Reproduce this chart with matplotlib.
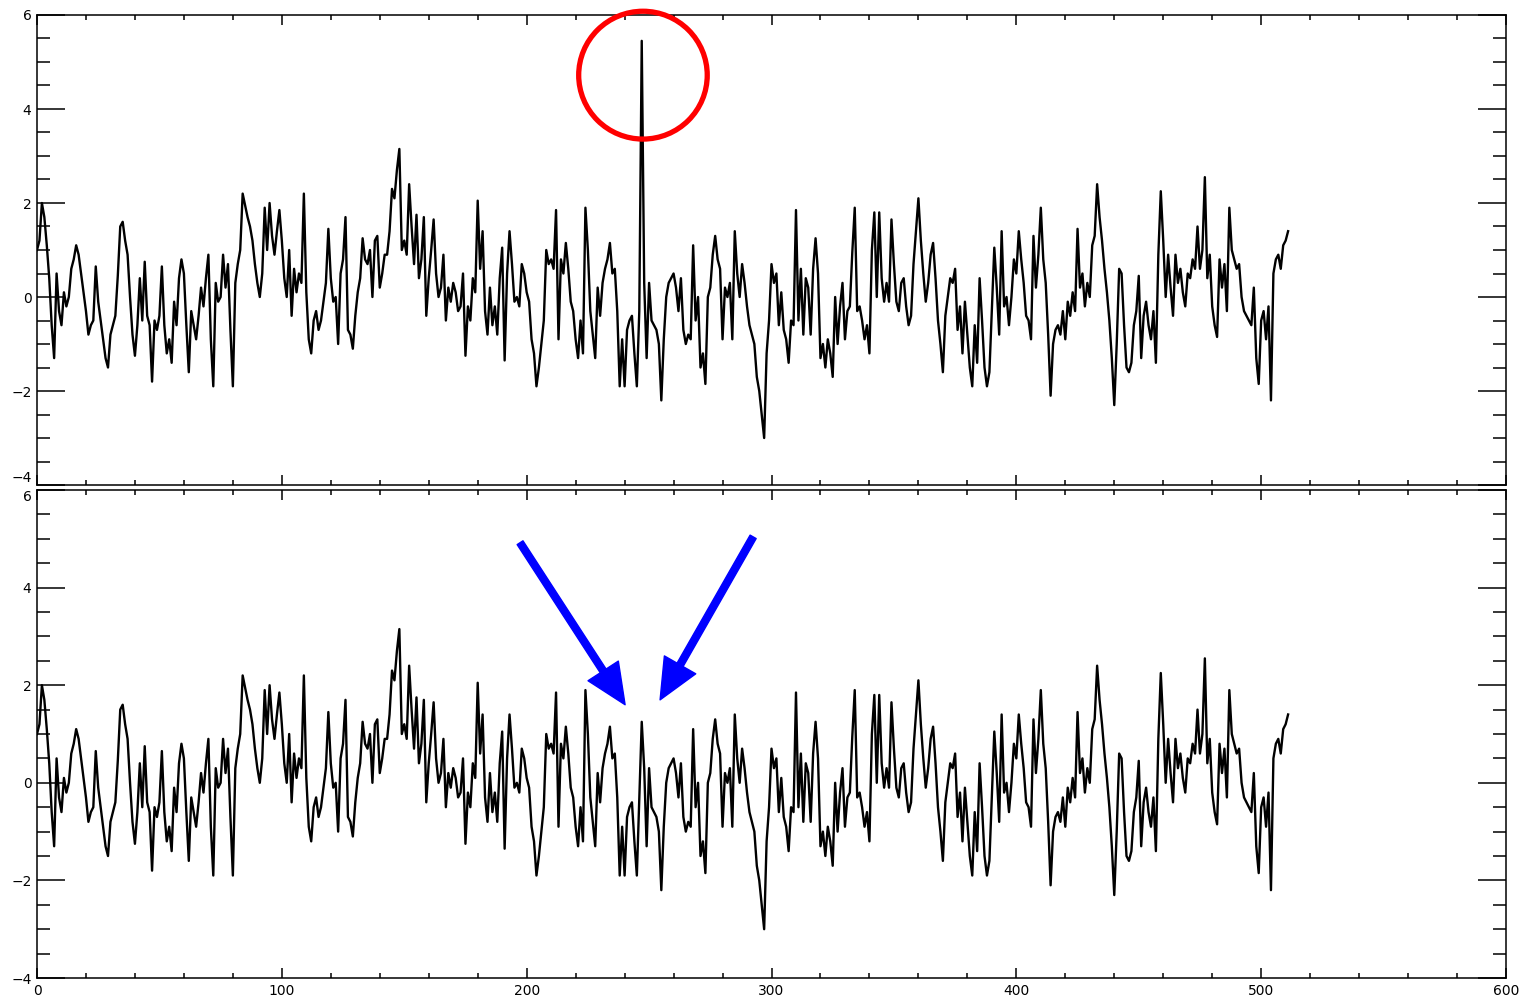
import numpy as np
import matplotlib.pyplot as plt
from matplotlib.patches import Ellipse

# signal, one value per sample (0..511)
signal = [
    1.0, 1.2, 2.0, 1.7, 1.1, 0.4, -0.6, -1.3, 0.5, -0.3,
    -0.6, 0.1, -0.2, 0.0, 0.6, 0.8, 1.1, 0.9, 0.5, 0.1,
    -0.3, -0.8, -0.6, -0.5, 0.65, -0.1, -0.5, -0.9, -1.3, -1.5,
    -0.8, -0.6, -0.4, 0.45, 1.5, 1.6, 1.2, 0.9, 0.0, -0.8,
    -1.25, -0.6, 0.4, -0.5, 0.75, -0.4, -0.6, -1.8, -0.5, -0.7,
    -0.4, 0.65, -0.6, -1.2, -0.9, -1.4, -0.1, -0.6, 0.4, 0.8,
    0.5, -0.6, -1.6, -0.3, -0.6, -0.9, -0.4, 0.2, -0.2, 0.4,
    0.9, -0.9, -1.9, 0.3, -0.1, 0.0, 0.9, 0.2, 0.7, -0.7,
    -1.9, 0.3, 0.7, 1.0, 2.2, 1.95, 1.7, 1.5, 1.2, 0.7,
    0.3, 0.0, 0.5, 1.9, 1.0, 2.0, 1.3, 0.9, 1.4, 1.85,
    1.2, 0.4, 0.0, 1.0, -0.4, 0.6, 0.1, 0.5, 0.3, 2.2,
    0.1, -0.9, -1.2, -0.5, -0.3, -0.7, -0.5, -0.1, 0.3, 1.45,
    0.4, -0.1, 0.0, -1.0, 0.5, 0.8, 1.7, -0.7, -0.8, -1.1,
    -0.4, 0.1, 0.4, 1.25, 0.8, 0.7, 1.0, 0.0, 1.2, 1.3,
    0.2, 0.5, 0.9, 0.9, 1.4, 2.3, 2.1, 2.7, 3.15, 1.0,
    1.2, 0.9, 2.4, 1.5, 0.7, 1.75, 0.4, 0.8, 1.7, -0.4,
    0.4, 1.0, 1.65, 0.5, 0.0, 0.2, 0.9, -0.5, 0.2, -0.1,
    0.3, 0.1, -0.3, -0.2, 0.5, -1.25, -0.2, -0.5, 0.4, 0.1,
    2.05, 0.6, 1.4, -0.3, -0.8, 0.2, -0.6, -0.2, -0.8, 0.4,
    1.05, -1.35, 0.5, 1.4, 0.7, -0.1, 0.0, -0.2, 0.7, 0.5,
    0.1, -0.1, -0.9, -1.2, -1.9, -1.5, -1.0, -0.5, 1.0, 0.7,
    0.8, 0.6, 1.85, -0.9, 0.8, 0.5, 1.15, 0.6, -0.1, -0.3,
    -0.9, -1.3, -0.5, -1.2, 1.9, 1.0, -0.3, -0.8, -1.3, 0.2,
    -0.4, 0.3, 0.6, 0.8, 1.15, 0.5, 0.6, -0.3, -1.9, -0.9,
    -1.9, -0.7, -0.5, -0.4, -1.2, -1.9, -0.3, 5.45, 0.3, -1.3,
    0.3, -0.5, -0.6, -0.7, -1.0, -2.2, -0.9, 0.0, 0.3, 0.4,
    0.5, 0.2, -0.3, 0.4, -0.7, -1.0, -0.8, -0.9, 1.1, -0.5,
    0.0, -1.5, -1.2, -1.85, 0.0, 0.2, 0.9, 1.3, 0.8, 0.6,
    -0.9, 0.2, 0.0, 0.3, -0.9, 1.4, 0.5, 0.0, 0.7, 0.3,
    -0.2, -0.6, -0.8, -1.0, -1.7, -2.0, -2.5, -3.0, -1.2, -0.5,
    0.7, 0.3, 0.5, -0.6, 0.1, -0.7, -0.9, -1.4, -0.5, -0.6,
    1.85, -0.5, 0.6, -0.8, 0.4, 0.2, -0.8, 0.6, 1.25, 0.5,
    -1.3, -1.0, -1.5, -0.9, -1.2, -1.7, 0.0, -1.0, -0.2, 0.3,
    -0.9, -0.3, -0.2, 0.95, 1.9, -0.3, -0.2, -0.5, -0.9, -0.6,
    -1.2, 1.0, 1.8, 0.0, 1.8, 0.4, -0.1, 0.3, -0.1, 1.65,
    0.7, -0.1, -0.3, 0.3, 0.4, -0.2, -0.6, -0.4, 0.7, 1.4,
    2.1, 1.2, 0.5, -0.1, 0.3, 0.9, 1.15, 0.4, -0.5, -1.0,
    -1.6, -0.4, 0.0, 0.4, 0.3, 0.6, -0.7, -0.2, -1.2, -0.1,
    -0.8, -1.5, -1.9, -0.6, -1.4, 0.4, -0.5, -1.5, -1.9, -1.6,
    -0.3, 1.05, 0.2, -0.8, 1.4, -0.2, 0.0, -0.6, 0.0, 0.8,
    0.5, 1.4, 0.8, 0.3, -0.4, -0.5, -0.9, 1.3, 0.2, 0.9,
    1.9, 0.8, 0.3, -0.8, -2.1, -1.0, -0.7, -0.6, -0.8, -0.3,
    -0.9, -0.1, -0.4, 0.1, -0.3, 1.45, 0.2, 0.5, -0.2, 0.3,
    0.0, 1.1, 1.3, 2.4, 1.7, 1.2, 0.6, 0.1, -0.5, -1.3,
    -2.3, -1.0, 0.6, 0.5, -0.6, -1.5, -1.6, -1.4, -0.6, -0.3,
    0.45, -1.3, -0.4, -0.1, -0.6, -0.9, -0.3, -1.4, 0.9, 2.25,
    1.2, 0.0, 0.9, 0.2, -0.4, 0.9, 0.3, 0.6, 0.1, -0.2,
    0.5, 0.4, 0.8, 0.6, 1.5, 0.6, 1.0, 2.55, 0.4, 0.9,
    -0.2, -0.6, -0.85, 0.8, 0.2, 0.7, -0.3, 1.9, 1.0, 0.8,
    0.6, 0.7, 0.0, -0.3, -0.4, -0.5, -0.6, 0.2, -1.3, -1.85,
    -0.5, -0.3, -0.9, -0.2, -2.2, 0.5, 0.8, 0.9, 0.6, 1.1,
    1.2, 1.4,
]

# the outlier sample and the value it takes after cleaning
spike_index = 247
spike_fixed = 1.25

x_ticks = [0, 100, 200, 300, 400, 500, 600]
y_ticks = [-4, -2, 0, 2, 4, 6]
x_range = (0, 600)
y_range = (-4, 6)


def style_axis(ax, show_xlabels):
    ax.set_xlim(*x_range)
    ax.set_ylim(*y_range)
    ax.set_xticks(x_ticks)
    ax.set_yticks(y_ticks)
    ax.set_xticks(np.arange(0, 601, 20), minor=True)
    ax.set_yticks(np.arange(-4, 6.01, 0.5), minor=True)
    ax.set_yticklabels([f"\u2212{abs(v)}" if v < 0 else str(v) for v in y_ticks])
    if not show_xlabels:
        ax.set_xticklabels([])
    ax.tick_params(axis='both', which='both', direction='in', top=True, right=True,
                   colors='black', labelsize=10, width=1.1)
    ax.tick_params(axis='y', which='major', length=20, pad=4)
    ax.tick_params(axis='y', which='minor', length=9.5)
    ax.tick_params(axis='x', which='major', length=7, pad=4)
    ax.tick_params(axis='x', which='minor', length=3.5)
    for sp in ax.spines.values():
        sp.set_linewidth(1.1)


x = np.arange(len(signal))
top_values = np.array(signal)
bottom_values = top_values.copy()
bottom_values[spike_index] = spike_fixed

fig = plt.figure(figsize=(15.28, 10.05), dpi=100)
ax1 = fig.add_axes([37 / 1528, 1 - 485 / 1005, (1506 - 37) / 1528, (485 - 15) / 1005])
ax2 = fig.add_axes([37 / 1528, 1 - 978 / 1005, (1506 - 37) / 1528, (978 - 490) / 1005])

ax1.plot(x, top_values, color='black', lw=1.7)
ax2.plot(x, bottom_values, color='black', lw=1.7)
style_axis(ax1, False)
style_axis(ax2, True)

# keep the "-4" of the top panel and the "6" of the bottom panel apart
ax1.get_yticklabels()[0].set_va('bottom')
ax2.get_yticklabels()[-1].set_va('top')

# red circle around the outlier
ax1.add_patch(Ellipse((247.5, 4.72), 52.5, 2.72, fill=False, edgecolor='red',
                      lw=3.8, clip_on=False, zorder=5))

# blue arrows pointing at the cleaned location
arrow_kw = dict(width=5, headwidth=26, headlength=29, facecolor='blue',
                edgecolor='blue', shrink=0)
ax2.annotate('', xy=(240.2, 1.6), xytext=(197.3, 4.92), arrowprops=arrow_kw)
ax2.annotate('', xy=(254.5, 1.7), xytext=(292.5, 5.04), arrowprops=arrow_kw)

fig.savefig('out.png', dpi=100)
